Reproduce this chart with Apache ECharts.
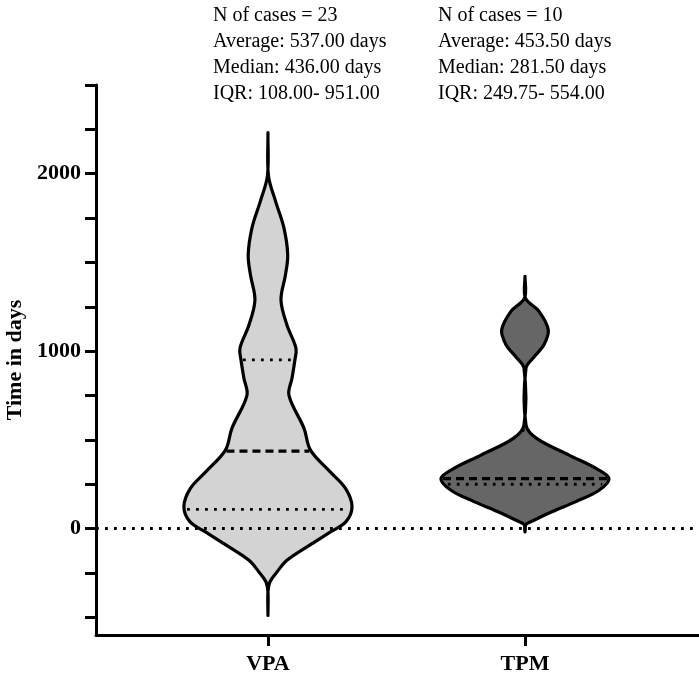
<!DOCTYPE html>
<html>
<head>
<meta charset="utf-8">
<script src="https://cdn.jsdelivr.net/npm/echarts@6/dist/echarts.min.js"></script>
<style>
  html, body { margin: 0; padding: 0; background: #fff; }
  #chart { width: 699px; height: 675px; }
</style>
</head>
<body>
<div id="chart"></div>
<script>
// === Datos ===================================================================
const categories = ['VPA', 'TPM'];

// Perfil del violín: nivel (días) y densidad relativa (1 = ancho máximo)
const vpaLevels  = [-490, -356, -300, -245, -179,  -96,  -19,   39,  124,  226,  321,  442,  565,  751,  847,  951, 1017, 1147, 1288, 1429, 1542, 1695, 1847, 1989, 2232];
const vpaDensity = [   0,    0, 0.024, 0.107, 0.226, 0.488, 0.744, 0.929, 1.00, 0.923, 0.738, 0.506, 0.429, 0.25, 0.286, 0.321, 0.333, 0.226, 0.155, 0.208, 0.235, 0.19, 0.089, 0.006, 0];

const tpmLevels  = [-19,   19,    47,    96,   152,   216,  282,   339,   414,   508,   584,   904,   970,  1036,  1120,  1224,  1299, 1422];
const tpmDensity = [  0,    0, 0.107, 0.327, 0.607, 0.881, 1.00, 0.845, 0.524, 0.139, 0.012, 0.012, 0.113, 0.226, 0.277, 0.167, 0.006,    0];

const medians = [436, 281.5];
const q1      = [108, 249.75];
const q3      = [951, 554];

const nCases   = [23, 10];
const averages = ['537.00', '453.50'];
const medTxt   = ['436.00', '281.50'];
const iqrTxt   = ['108.00- 951.00', '249.75- 554.00'];

const yTicks  = [-500, -250, 0, 250, 500, 750, 1000, 1250, 1500, 1750, 2000, 2250, 2500];
const yLabels = [0, 1000, 2000];

// === Estilo ==================================================================
const FONT = 'Liberation Serif';
const fills = ['#d3d3d3', '#666666'];
const HALF_W = 0.327;   // medio ancho máximo del violín (unidades del eje x)

const profiles = [
  { lv: vpaLevels, d: vpaDensity },
  { lv: tpmLevels, d: tpmDensity }
];

function densAt(p, v) {
  const { lv, d } = p;
  for (let i = 0; i < lv.length - 1; i++) {
    if (v >= lv[i] && v <= lv[i + 1]) {
      const t = (v - lv[i]) / (lv[i + 1] - lv[i]);
      return d[i] + t * (d[i + 1] - d[i]);
    }
  }
  return 0;
}

function renderViolin(params, api) {
  const idx = api.value(0);
  const p = profiles[idx];
  const pts = [];
  for (let i = 0; i < p.lv.length; i++) pts.push(api.coord([idx + p.d[i] * HALF_W, p.lv[i]]));
  for (let i = p.lv.length - 1; i >= 0; i--) pts.push(api.coord([idx - p.d[i] * HALF_W, p.lv[i]]));

  const hline = (v, dash, w) => {
    const hw = densAt(p, v) * HALF_W;
    const a = api.coord([idx - hw, v]), b = api.coord([idx + hw, v]);
    return {
      type: 'line',
      shape: { x1: a[0] + 2, y1: a[1], x2: b[0] - 2, y2: b[1] },
      style: { stroke: '#000', lineWidth: w, lineDash: dash }
    };
  };

  return {
    type: 'group',
    children: [
      {
        type: 'polygon',
        shape: { points: pts, smooth: 0.35 },
        style: { fill: fills[idx], stroke: '#000', lineWidth: 3.2, lineJoin: 'round' }
      },
      hline(q1[idx], [2.8, 6.2], 2.8),
      hline(q3[idx], [2.8, 6.2], 2.8),
      hline(medians[idx], [8, 5], 3.2)
    ]
  };
}

const chart = echarts.init(document.getElementById('chart'));
chart.setOption({
  animation: false,
  grid: { left: 96, right: 0, top: 85, bottom: 40, outerBoundsMode: 'none', containLabel: false },
  xAxis: {
    type: 'value', min: -0.669, max: 1.677,
    splitLine: { show: false },
    axisLine: { show: true, onZero: false, lineStyle: { color: '#000', width: 3 } },
    axisTick: { show: true, customValues: [0, 1], length: 11, lineStyle: { color: '#000', width: 3 } },
    axisLabel: {
      customValues: [0, 1], margin: 18,
      formatter: v => categories[Math.round(v)] || '',
      fontFamily: FONT, fontWeight: 'bold', fontSize: 22, color: '#000'
    }
  },
  yAxis: {
    type: 'value', min: -600, max: 2500,
    name: 'Time in days', nameLocation: 'middle', nameGap: 70,
    nameTextStyle: { fontFamily: FONT, fontWeight: 'bold', fontSize: 22, color: '#000' },
    splitLine: { show: false },
    axisLine: { show: true, onZero: false, lineStyle: { color: '#000', width: 3 } },
    axisTick: { show: true, customValues: yTicks, length: 11, lineStyle: { color: '#000', width: 3 } },
    axisLabel: {
      customValues: yLabels, margin: 15,
      formatter: v => String(v),
      fontFamily: FONT, fontWeight: 'bold', fontSize: 22, color: '#000'
    }
  },
  graphic: categories.map((c, i) => ({
    type: 'text',
    left: [213, 438][i], top: 3,
    style: {
      text: [
        `N of cases = ${nCases[i]}`,
        `Average: ${averages[i]} days`,
        `Median: ${medTxt[i]} days`,
        `IQR: ${iqrTxt[i]}`
      ].join('\n'),
      font: `20px "${FONT}"`, lineHeight: 26, fill: '#000'
    }
  })),
  series: [
    {
      type: 'line', data: [], z: 1,
      markLine: {
        silent: true, symbol: 'none', label: { show: false },
        lineStyle: { color: '#000', width: 2.8, type: [2.8, 6.2] },
        data: [{ yAxis: 0 }]
      }
    },
    {
      type: 'custom', z: 2,
      renderItem: renderViolin,
      data: categories.map((c, i) => [i])
    }
  ]
});
</script>
</body>
</html>
